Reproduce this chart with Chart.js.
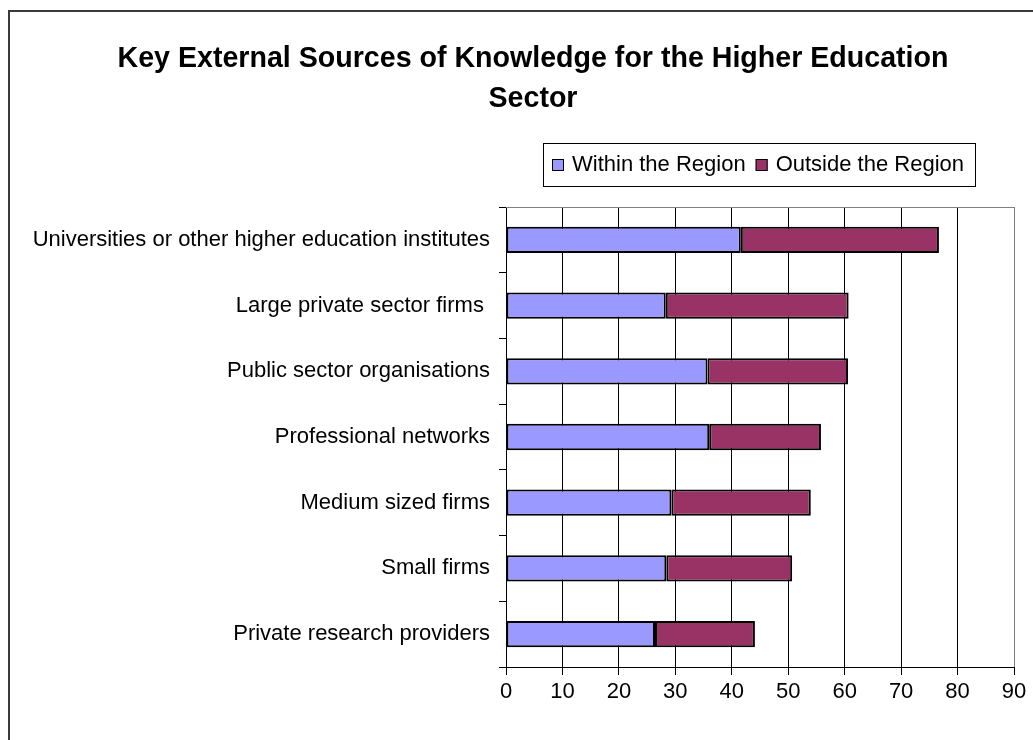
<!DOCTYPE html>
<html>
<head>
<meta charset="utf-8">
<script src="https://cdn.jsdelivr.net/npm/chart.js@4"></script>
<style>
  html, body { margin: 0; padding: 0; background: #ffffff; }
  #wrap { width: 1033px; height: 740px; position: relative; }
</style>
</head>
<body>
<div id="wrap"><canvas id="chart" width="1033" height="740"></canvas></div>
<script>
// Knowledge sources, listed top to bottom
const categories = [
  'Universities or other higher education institutes',
  'Large private sector firms ',
  'Public sector organisations',
  'Professional networks',
  'Medium sized firms',
  'Small firms',
  'Private research providers'
];
const withinRegion  = [41.6, 28.3, 35.7, 36.0, 29.3, 28.4, 26.4];
const outsideRegion = [35.1, 32.4, 24.9, 19.8, 24.7, 22.3, 17.7];
const seriesNames = ['Within the Region', 'Outside the Region'];
const xTicks = [0, 10, 20, 30, 40, 50, 60, 70, 80, 90];
const titleLines = ['Key External Sources of Knowledge for the Higher Education', 'Sector'];

const FONT = '"Liberation Sans", Arial, sans-serif';
const WITHIN_COLOR = '#9999ff';
const OUTSIDE_COLOR = '#993366';

// Frame, title, boxed legend and plot-area outline
const decorations = {
  id: 'decorations',
  beforeDraw(chart) {
    const ctx = chart.ctx;
    ctx.save();
    ctx.fillStyle = '#ffffff';
    ctx.fillRect(0, 0, chart.width, chart.height);
    // outer frame (top and left edges)
    ctx.strokeStyle = '#3a3a3a';
    ctx.lineWidth = 2;
    ctx.beginPath();
    ctx.moveTo(9, chart.height);
    ctx.lineTo(9, 11);
    ctx.lineTo(chart.width, 11);
    ctx.stroke();
    ctx.restore();
  },
  afterDraw(chart) {
    const ctx = chart.ctx;
    const a = chart.chartArea;
    ctx.save();
    // plot-area outline on the top and right
    ctx.strokeStyle = '#808080';
    ctx.lineWidth = 1;
    ctx.beginPath();
    ctx.moveTo(a.left, a.top + 0.5);
    ctx.lineTo(a.right + 0.5, a.top + 0.5);
    ctx.lineTo(a.right + 0.5, a.bottom);
    ctx.stroke();

    // title
    ctx.fillStyle = '#000000';
    ctx.textAlign = 'center';
    ctx.textBaseline = 'alphabetic';
    ctx.font = 'bold 28.6px ' + FONT;
    ctx.fillText(titleLines[0], 533, 67);
    ctx.fillText(titleLines[1], 533, 107);

    // legend
    const box = { x: 543.5, y: 143.5, w: 432, h: 43 };
    ctx.strokeStyle = '#000000';
    ctx.lineWidth = 1;
    ctx.strokeRect(box.x, box.y, box.w, box.h);
    ctx.font = '22px ' + FONT;
    ctx.textAlign = 'left';
    ctx.textBaseline = 'middle';
    const colors = [WITHIN_COLOR, OUTSIDE_COLOR];
    let x = 552;
    const cy = 165;
    seriesNames.forEach((name, i) => {
      ctx.fillStyle = colors[i];
      ctx.fillRect(x, cy - 6, 12, 12);
      ctx.strokeStyle = '#000000';
      ctx.strokeRect(x + 0.5, cy - 5.5, 11, 11);
      ctx.fillStyle = '#000000';
      ctx.fillText(name, x + 20, cy);
      x += 20 + ctx.measureText(name).width + 10;
    });
    ctx.restore();
  }
};

new Chart(document.getElementById('chart'), {
  type: 'bar',
  data: {
    labels: categories,
    datasets: [
      {
        label: seriesNames[0],
        data: withinRegion,
        backgroundColor: WITHIN_COLOR,
        borderColor: '#000000',
        borderWidth: 2,
        borderSkipped: false,
        barPercentage: 0.4,
        categoryPercentage: 1.0
      },
      {
        label: seriesNames[1],
        data: outsideRegion,
        backgroundColor: OUTSIDE_COLOR,
        borderColor: '#000000',
        borderWidth: 2,
        borderSkipped: false,
        barPercentage: 0.4,
        categoryPercentage: 1.0
      }
    ]
  },
  options: {
    indexAxis: 'y',
    responsive: false,
    animation: false,
    devicePixelRatio: 1,
    layout: { padding: { top: 207, right: 19, left: 0, bottom: 0 } },
    plugins: {
      legend: { display: false },
      title: { display: false },
      tooltip: { enabled: false }
    },
    scales: {
      x: {
        stacked: true,
        min: 0,
        max: 90,
        afterBuildTicks(scale) {
          scale.ticks = xTicks.map(v => ({ value: v }));
        },
        afterFit(scale) { scale.height = 73; },
        ticks: {
          color: '#000000',
          font: { family: FONT, size: 22 },
          padding: 4,
          maxRotation: 0
        },
        grid: {
          color: ctx => (ctx.tick && ctx.tick.value === 90) ? '#808080' : '#000000',
          lineWidth: 1,
          drawTicks: true,
          tickLength: 8,
          tickColor: '#000000'
        },
        border: { display: true, color: '#000000', width: 1 }
      },
      y: {
        stacked: true,
        afterFit(scale) { scale.width = 506; },
        ticks: {
          color: '#000000',
          font: { family: FONT, size: 22 },
          padding: 9
        },
        grid: {
          offset: true,
          drawOnChartArea: false,
          drawTicks: true,
          tickLength: 7,
          tickColor: '#000000'
        },
        border: { display: true, color: '#000000', width: 1 }
      }
    }
  },
  plugins: [decorations]
});
</script>
</body>
</html>
